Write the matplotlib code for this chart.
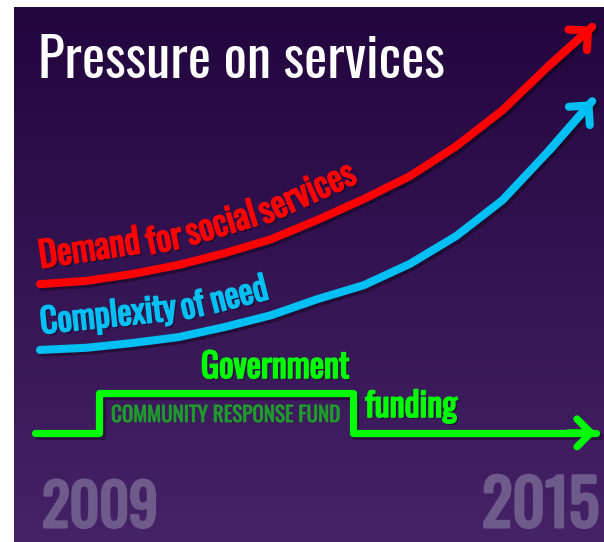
import numpy as np
import matplotlib
matplotlib.use('Agg')
import matplotlib.pyplot as plt
import matplotlib.patheffects as pe
from matplotlib.transforms import IdentityTransform

# years on the x axis, pressure index (0-100) on the y axis
years = [2009.0, 2009.5, 2010.0, 2010.5, 2011.0, 2011.5, 2012.0,
         2012.5, 2013.0, 2013.5, 2014.0, 2014.5, 2014.97]
demand = [48.2, 48.8, 50.1, 51.8, 54.0, 56.6, 60.2,
          64.1, 68.4, 74.0, 80.7, 89.0, 96.3]
complexity = [35.9, 36.3, 37.2, 38.3, 40.2, 42.4, 45.4,
              48.0, 52.0, 57.2, 63.9, 73.1, 82.4]
funding_years = [2008.95, 2009.64, 2012.38, 2015.01]
funding = [20.4, 27.9, 20.4, 20.4]

title = 'Pressure on services'
demand_label = 'Demand for social services'
complexity_label = 'Complexity of need'
gov_label = ['Government', 'funding']
fund_label = 'COMMUNITY RESPONSE FUND'
year_labels = ['2009', '2015']

RED = '#ff0000'
BLUE = '#00bff2'
GREEN = '#00ff00'
DARKGREEN = '#1f9a2c'
YEARCOL = '#6f5a8c'
FONT = ['Oswald', 'Barlow Condensed', 'DejaVu Sans']

fig = plt.figure(figsize=(6.04, 5.42), dpi=100, facecolor='white')
ax = fig.add_axes([14 / 604, 0, 590 / 604, 535 / 542])
x0, x1 = 2008.719, 2015.097
ax.axis('off')

# background gradient, dark at the top
grad = np.linspace(1, 0, 256).reshape(-1, 1)
cmap = matplotlib.colors.LinearSegmentedColormap.from_list('bg', ['#22063e', '#462267'])
ax.imshow(grad, aspect='auto', cmap=cmap, extent=[x0, x1, 0, 100],
          origin='lower', zorder=0)
ax.set_xlim(x0, x1)
ax.set_ylim(0, 100)

shadow = [pe.SimpleLineShadow(offset=(2, -2), shadow_color='black', alpha=0.35), pe.Normal()]


def bold_fx(color, lw, shade=True):
    # Oswald only ships one weight here, so thicken the glyphs with a stroke
    fx = [pe.SimplePatchShadow(offset=(1.5, -1.5), shadow_rgbFace='black', alpha=0.35)] if shade else []
    return fx + [pe.Stroke(linewidth=lw, foreground=color), pe.Normal()]


def arrow_head(x, y, xfrom, yfrom, color, lw):
    ax.annotate('', xy=(x, y), xytext=(xfrom, yfrom),
                arrowprops=dict(arrowstyle='->,head_length=0.5,head_width=0.5',
                                color=color, lw=lw, shrinkA=0, shrinkB=0,
                                mutation_scale=20, capstyle='round', joinstyle='round'),
                zorder=4)


for vals, col in [(demand, RED), (complexity, BLUE)]:
    ax.plot(years, vals, color=col, lw=5.8, solid_capstyle='round',
            solid_joinstyle='round', path_effects=shadow, zorder=3)
    arrow_head(years[-1], vals[-1], years[-2], vals[-2], col, 5.8)

ax.plot(funding_years, funding, drawstyle='steps-post', color=GREEN, lw=5.2,
        solid_capstyle='round', solid_joinstyle='round', path_effects=shadow, zorder=3)
arrow_head(funding_years[-1], funding[-1], funding_years[-1] - 0.3, funding[-1], GREEN, 5.2)

fig.canvas.draw()
renderer = fig.canvas.get_renderer()


def fit_text(x, y, s, width, ha='left', **kw):
    t = fig.text(x / 604, 1 - y / 542, s, ha=ha, va='baseline', family=FONT, **kw)
    for _ in range(3):
        w = t.get_window_extent(renderer).width
        t.set_fontsize(t.get_fontsize() * width / w)
    return t


def curve_label(x, y, text, color, length, start=3, offset=16):
    pts = ax.transData.transform(np.column_stack([x, y]))
    seg = np.hypot(*np.diff(pts, axis=0).T)
    s = np.concatenate([[0], np.cumsum(seg)])
    words = [ax.text(0, 0, w, transform=IdentityTransform(), color=color,
                     fontsize=20, family=FONT, ha='left', va='baseline',
                     rotation_mode='anchor', path_effects=bold_fx(color, 1.2),
                     zorder=5) for w in text.split()]
    for _ in range(3):
        fs = words[0].get_fontsize()
        gap = 0.22 * fs * 100 / 72
        total = sum(t.get_window_extent(renderer).width for t in words) + gap * (len(words) - 1)
        for t in words:
            t.set_fontsize(fs * length / total)
    fs = words[0].get_fontsize()
    gap = 0.22 * fs * 100 / 72
    pos = start
    for t in words:
        w = t.get_window_extent(renderer).width
        i = min(max(np.searchsorted(s, pos + w / 2) - 1, 0), len(seg) - 1)
        d = (pts[i + 1] - pts[i]) / seg[i]
        j = min(max(np.searchsorted(s, pos) - 1, 0), len(seg) - 1)
        dj = (pts[j + 1] - pts[j]) / seg[j]
        p = pts[j] + dj * (pos - s[j]) + np.array([-d[1], d[0]]) * offset
        t.set_position((p[0], p[1]))
        t.set_rotation(np.degrees(np.arctan2(d[1], d[0])))
        pos += w + gap


curve_label(years, demand, demand_label, RED, 336)
curve_label(years, complexity, complexity_label, BLUE, 235)

fit_text(38, 78, title, 407, color='white', fontsize=40)
fit_text(201, 378, gov_label[0], 149, color=GREEN, fontsize=22,
         path_effects=bold_fx(GREEN, 1.2))
fit_text(365, 417, gov_label[1], 92, color=GREEN, fontsize=22,
         path_effects=bold_fx(GREEN, 1.2))
fit_text(111, 422, fund_label, 230, color=DARKGREEN, fontsize=14,
         path_effects=bold_fx(DARKGREEN, 0.5, shade=False))
fit_text(42, 527, year_labels[0], 116, color=YEARCOL, fontsize=48,
         path_effects=bold_fx(YEARCOL, 2.2, shade=False))
fit_text(599, 527, year_labels[1], 117, ha='right', color=YEARCOL, fontsize=48,
         path_effects=bold_fx(YEARCOL, 2.2, shade=False))

fig.savefig('out.png', dpi=100, facecolor='white')
